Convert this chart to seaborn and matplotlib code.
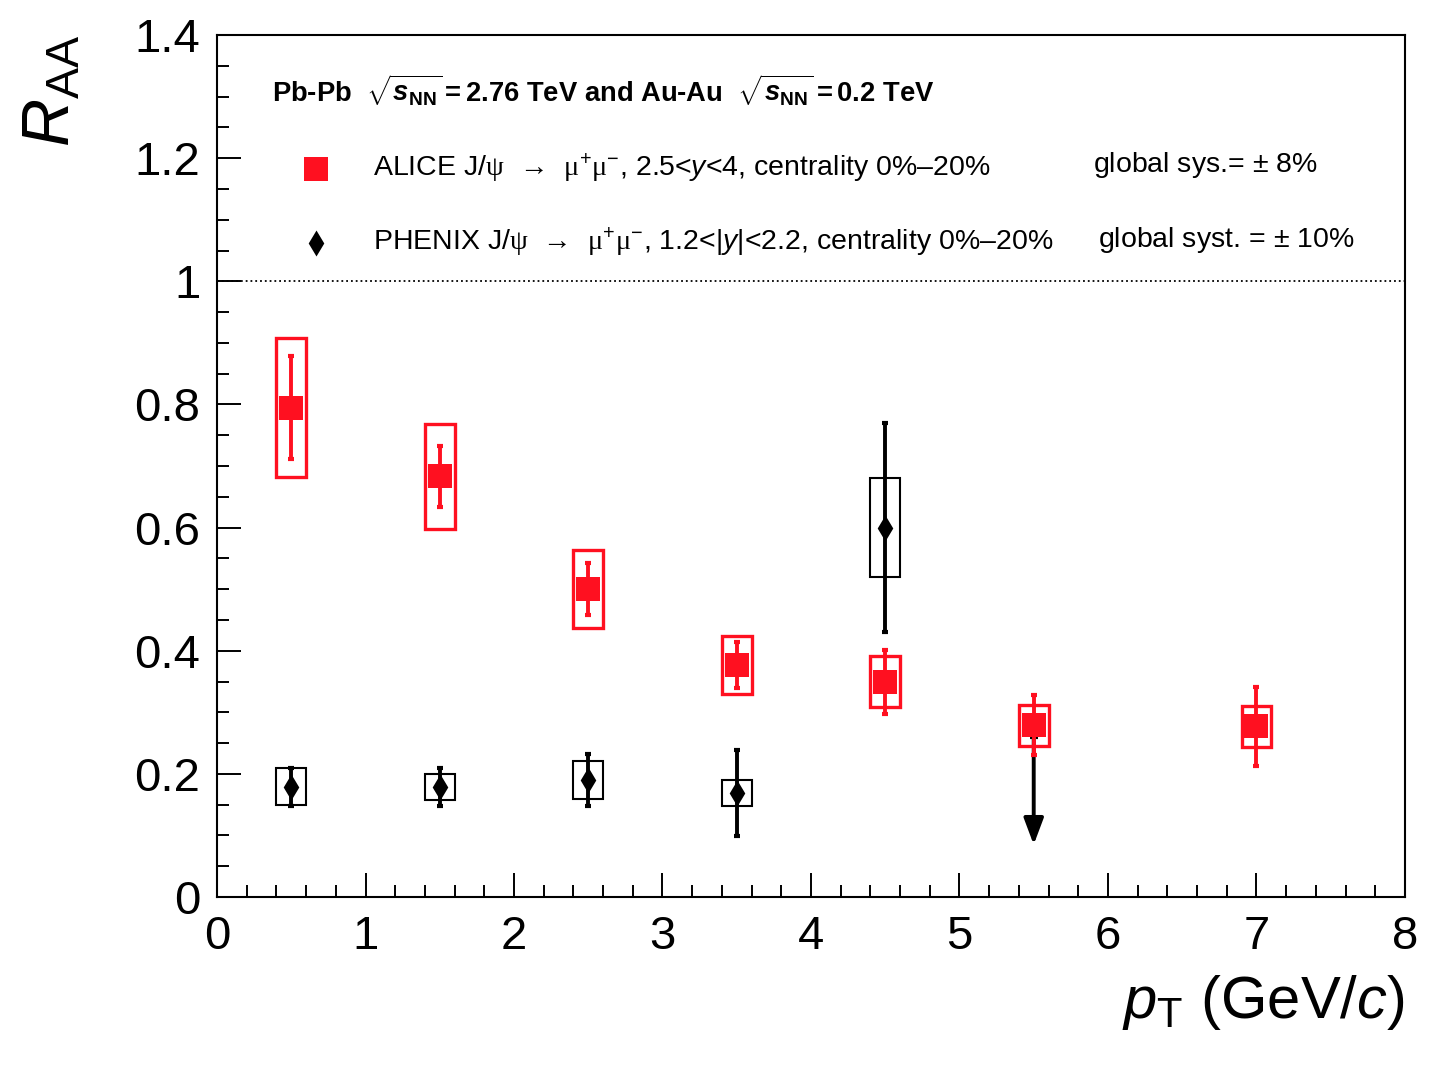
import numpy as np
import pandas as pd
import matplotlib
matplotlib.use("Agg")
import matplotlib.pyplot as plt
import seaborn as sns
from matplotlib.ticker import MultipleLocator, FuncFormatter

# ALICE J/psi -> mu+mu-, 2.5<y<4, 0-20%
alice_pt = [0.5, 1.5, 2.5, 3.5, 4.5, 5.5, 7.0]
alice_raa = [0.795, 0.683, 0.500, 0.377, 0.350, 0.279, 0.277]
alice_stat = [0.083, 0.050, 0.042, 0.037, 0.052, 0.049, 0.064]
alice_sys = [0.113, 0.085, 0.063, 0.047, 0.041, 0.033, 0.033]

# PHENIX J/psi -> mu+mu-, 1.2<|y|<2.2, 0-20%
phenix_pt = [0.5, 1.5, 2.5, 3.5, 4.5]
phenix_raa = [0.179, 0.179, 0.190, 0.169, 0.600]
phenix_stat = [0.031, 0.031, 0.042, 0.070, 0.170]
phenix_sys = [0.030, 0.021, 0.031, 0.021, 0.080]
# upper limit
phenix_ul_pt = [5.5]
phenix_ul = [0.26]

RED = "#ff1020"

sns.set_theme(style="white")
plt.rcParams["font.family"] = ["Liberation Sans", "DejaVu Sans"]
plt.rcParams["text.color"] = "black"
plt.rcParams["axes.labelcolor"] = "black"
plt.rcParams["xtick.color"] = "black"
plt.rcParams["ytick.color"] = "black"
plt.rcParams["mathtext.fontset"] = "custom"
plt.rcParams["mathtext.rm"] = "Liberation Sans"
plt.rcParams["mathtext.it"] = "Liberation Sans:italic"
plt.rcParams["mathtext.bf"] = "Liberation Sans:bold"
plt.rcParams["mathtext.bfit"] = "Liberation Sans:italic:bold"
plt.rcParams["mathtext.sf"] = "Liberation Serif"

df_a = pd.DataFrame({"pt": alice_pt, "raa": alice_raa})
df_p = pd.DataFrame({"pt": phenix_pt, "raa": phenix_raa})

fig = plt.figure(figsize=(14.42, 10.68), dpi=100)
ax = fig.add_axes([0.1505, 0.1601, 0.8238, 0.8071])

# PHENIX: boxes (sys), error bars (stat), markers
ax.bar(phenix_pt, [2 * s for s in phenix_sys],
       bottom=[r - s for r, s in zip(phenix_raa, phenix_sys)],
       width=0.2, fill=False, edgecolor="black", linewidth=1.5, zorder=2)
ax.errorbar(phenix_pt, phenix_raa, yerr=phenix_stat, fmt="none", ecolor="black",
            elinewidth=2.8, capsize=2.2, capthick=3, zorder=3)
ax.annotate("", xy=(phenix_ul_pt[0], phenix_ul[0] - 0.175),
            xytext=(phenix_ul_pt[0], phenix_ul[0]),
            arrowprops=dict(arrowstyle="-|>,head_length=0.8,head_width=0.3",
                            color="black", lw=2.8, mutation_scale=20,
                            shrinkA=0, shrinkB=0), zorder=3)
ax.scatter(phenix_ul_pt, phenix_ul, marker="_", s=40, linewidths=3,
           color="black", zorder=3)
sns.scatterplot(data=df_p, x="pt", y="raa", marker="d", s=175, color="black",
                linewidth=0, ax=ax, zorder=4,
                label="PHENIX J/$\\mathsf{\\psi}$  \u2192  $\\mathsf{\\mu}^{+}\\mathsf{\\mu}^{-}$, 1.2<|$y$|<2.2, centrality 0%\u201320%")

# ALICE
ax.bar(alice_pt, [2 * s for s in alice_sys],
       bottom=[r - s for r, s in zip(alice_raa, alice_sys)],
       width=0.2, fill=False, edgecolor=RED, linewidth=2.4, zorder=5)
ax.errorbar(alice_pt, alice_raa, yerr=alice_stat, fmt="none", ecolor=RED,
            elinewidth=2.8, capsize=2.2, capthick=3, zorder=6)
sns.scatterplot(data=df_a, x="pt", y="raa", marker="s", s=280, color=RED,
                linewidth=0, ax=ax, zorder=7,
                label="ALICE J/$\\mathsf{\\psi}$  \u2192  $\\mathsf{\\mu}^{+}\\mathsf{\\mu}^{-}$, 2.5<$y$<4, centrality 0%\u201320%")

ax.axhline(1.0, color="black", linestyle=":", linewidth=1.3, zorder=1)

ax.set_xlim(0, 8)
ax.set_ylim(0, 1.4)
ax.xaxis.set_major_locator(MultipleLocator(1))
ax.xaxis.set_minor_locator(MultipleLocator(0.2))
ax.yaxis.set_major_locator(MultipleLocator(0.2))
ax.yaxis.set_minor_locator(MultipleLocator(0.05))
ax.yaxis.set_major_formatter(FuncFormatter(lambda v, p: "{:g}".format(round(v, 2))))
ax.tick_params(which="both", direction="in", top=False, right=False,
               bottom=True, left=True, width=1.4, color="black")
ax.tick_params(which="major", length=17, labelsize=34)
ax.tick_params(which="minor", length=8.5)
ax.tick_params(axis="x", which="major", pad=13)
ax.tick_params(axis="y", which="major", pad=12)
for sp in ax.spines.values():
    sp.set_linewidth(1.5)
    sp.set_color("black")

ax.set_ylabel(r"$R_{\mathrm{AA}}$", fontsize=48, loc="top")
ax.yaxis.set_label_coords(-0.112, 1.0)
ax.set_xlabel(r"$p_{\mathrm{T}}$ (GeV/$c$)", fontsize=43, loc="right")
ax.xaxis.set_label_coords(1.0, -0.088)

ax.text(0.046, 0.936, r"Pb-Pb  $\sqrt{\mathbfit{s}_{\mathbf{NN}}}$$\mathbf{= 2.76\ TeV\ and\ Au}$-$\mathbf{Au}$  $\sqrt{\mathbfit{s}_{\mathbf{NN}}}$$\mathbf{= 0.2\ TeV}$",
        transform=ax.transAxes, fontsize=19.7, fontweight="bold", va="center", ha="left")

handles, labels = ax.get_legend_handles_labels()
ax.legend(handles[::-1], labels[::-1], loc="upper left", bbox_to_anchor=(0.05, 0.878),
          frameon=False, fontsize=20.5, handletextpad=1.0, labelspacing=1.45,
          markerscale=1.0, borderaxespad=0)
ax.text(0.737, 0.849, r"global sys.= $\pm$ 8%", transform=ax.transAxes,
        fontsize=20.5, va="center", ha="left")
ax.text(0.742, 0.762, r"global syst. = $\pm$ 10%", transform=ax.transAxes,
        fontsize=20.5, va="center", ha="left")

fig.savefig("out.png", dpi=100)
